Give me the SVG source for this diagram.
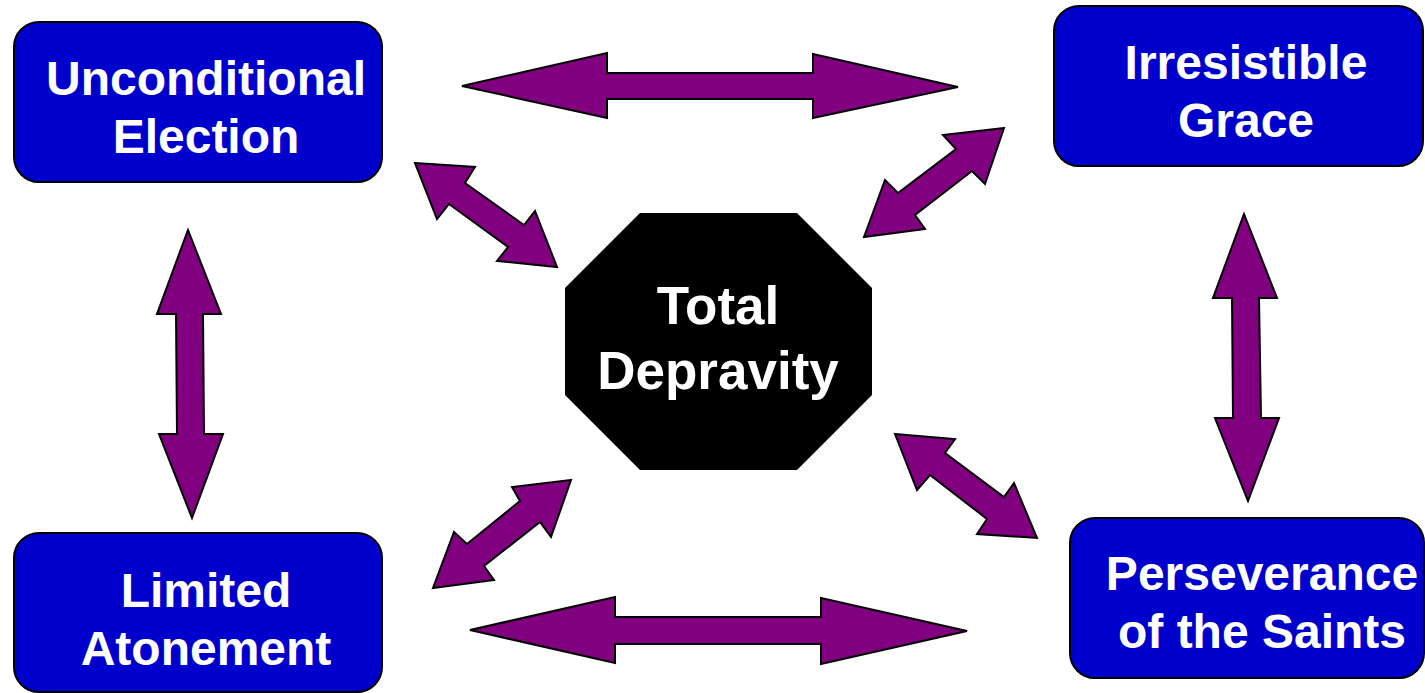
<svg xmlns="http://www.w3.org/2000/svg" width="1425" height="693" viewBox="0 0 1425 693">
<style>
.box{fill:#0000CC;stroke:#000;stroke-width:2}
.arr{fill:#800080;stroke:#000;stroke-width:2;stroke-linejoin:miter}
.t{font-family:"Liberation Sans",Arial,sans-serif;font-weight:bold;fill:#fff;text-anchor:middle}
.t48{font-size:48px}
.t53{font-size:53px}
</style>
<rect width="1425" height="693" fill="#fff"/>
<g id="connectors">
<polygon class="arr" points="462,86 607,53 607,73 813,73 813,54 958,87 813,118 813,99 607,99 607,118"/>
<polygon class="arr" points="470,630 615,597 615,617 821,617 821,598 967,631 821,664 821,644 615,644 615,663"/>
<polygon class="arr" points="188,230 221,314 203,314 204,434 223,434 192,518 159,434 177,434 176,314 157,314"/>
<polygon class="arr" points="1244,214 1277,298 1259,298 1261,418 1279,418 1248,501 1215,418 1233,418 1232,298 1213,298"/>
<polygon class="arr" points="415,163 475,167 465,183 524,225 535,211 557,267 497,261 508,247 449,204 437,219"/>
<polygon class="arr" points="1004,128 943,135 956,149 898,193 885,180 864,237 925,229 915,215 972,171 985,184"/>
<polygon class="arr" points="571,480 512,487 520,501 467,544 454,532 433,588 494,580 484,566 540,522 551,537"/>
<polygon class="arr" points="895,434 955,439 945,453 1004,497 1014,483 1037,538 977,534 987,519 930,475 917,490"/>
</g>
<g id="node-unconditional-election">
<rect class="box" x="14" y="22" width="368" height="160" rx="25" ry="25"/>
<text class="t t48" x="206" y="95">Unconditional</text>
<text class="t t48" x="206" y="153">Election</text>
</g>
<g id="node-irresistible-grace">
<rect class="box" x="1054" y="6" width="369" height="160" rx="25" ry="25"/>
<text class="t t48" x="1246" y="79">Irresistible</text>
<text class="t t48" x="1246" y="137">Grace</text>
</g>
<g id="node-limited-atonement">
<rect class="box" x="14" y="533" width="368" height="159" rx="25" ry="25"/>
<text class="t t48" x="206" y="607">Limited</text>
<text class="t t48" x="206" y="665">Atonement</text>
</g>
<g id="node-perseverance">
<rect class="box" x="1070" y="518" width="354" height="160" rx="25" ry="25"/>
<text class="t t48" x="1262" y="590">Perseverance</text>
<text class="t t48" x="1262" y="648">of the Saints</text>
</g>
<g id="node-total-depravity">
<polygon fill="#000" points="640,213 797,213 872,288 872,395 797,470 640,470 565,395 565,288"/>
<text class="t t53" x="718" y="324">Total</text>
<text class="t t53" x="718" y="389">Depravity</text>
</g>
</svg>
